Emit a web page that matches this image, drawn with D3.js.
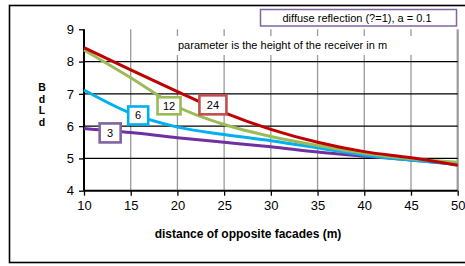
<!DOCTYPE html>
<html>
<head>
<meta charset="utf-8">
<script src="https://cdn.jsdelivr.net/npm/d3@7"></script>
<style>
  body { margin: 0; background: #fff; }
  text { font-family: "Liberation Sans", Arial, sans-serif; }
</style>
</head>
<body>
<div id="main"></div>
<script>

// distance of opposite facades (m)
var distances = [10, 15, 20, 25, 30, 35, 40, 45, 50];

// one series per receiver height (m)
var h3  = [5.93, 5.80, 5.64, 5.50, 5.36, 5.20, 5.07, 4.95, 4.82];
var h6  = [7.12, 6.40, 5.97, 5.74, 5.55, 5.33, 5.10, 4.95, 4.81];
var h12 = [8.36, 7.50, 6.60, 6.05, 5.68, 5.40, 5.16, 4.99, 4.88];
var h24 = [8.43, 7.74, 7.07, 6.42, 5.90, 5.50, 5.21, 5.02, 4.79];

var seriesNames = ["3", "6", "12", "24"];
var xTicks = [10, 15, 20, 25, 30, 35, 40, 45, 50];
var yTicks = [4, 5, 6, 7, 8, 9];

var w = 465;
var h = 266;

var series = [
  { name: seriesNames[0], values: h3,  line: "#7030A0", box: "#8064A2", lx: 12.8, ly: 5.79, bw: 21, bh: 19 },
  { name: seriesNames[1], values: h6,  line: "#00B0F0", box: "#00B0F0", lx: 15.8, ly: 6.33, bw: 20, bh: 18 },
  { name: seriesNames[2], values: h12, line: "#9BBB59", box: "#9BBB59", lx: 19.1, ly: 6.63, bw: 23, bh: 17 },
  { name: seriesNames[3], values: h24, line: "#C00000", box: "#C0504D", lx: 23.8, ly: 6.66, bw: 27, bh: 19 }
];

var svg = d3.select("#main").append("svg")
    .attr("width", w)
    .attr("height", h);

// outer chart frame
svg.append("rect")
    .attr("x", 9.5).attr("y", 5.5)
    .attr("width", 470).attr("height", 257)
    .attr("fill", "#fff")
    .attr("stroke", "#000")
    .attr("stroke-width", 1.6);

var x = d3.scaleLinear().domain([10, 50]).range([84, 457.7]);
var y = d3.scaleLinear().domain([4, 9]).range([190.7, 29.3]);

// vertical grid (grey)
svg.append("g").selectAll("line")
    .data(xTicks.slice(1))
    .enter().append("line")
    .attr("x1", function(d) { return x(d); })
    .attr("x2", function(d) { return x(d); })
    .attr("y1", y(9)).attr("y2", y(4))
    .attr("stroke", "#999")
    .attr("stroke-width", function(d) { return d == 50 ? 2.2 : 1.3; });

// horizontal grid (black)
svg.append("g").selectAll("line")
    .data([5, 6, 7, 8])
    .enter().append("line")
    .attr("x1", x(10)).attr("x2", x(50))
    .attr("y1", function(d) { return y(d); })
    .attr("y2", function(d) { return y(d); })
    .attr("stroke", "#000")
    .attr("stroke-width", 1.2);

// axes
var yAxis = d3.axisLeft(y).tickValues(yTicks).tickFormat(d3.format("d")).tickSize(5).tickPadding(5);
var xAxis = d3.axisBottom(x).tickValues(xTicks).tickFormat(d3.format("d")).tickSize(5).tickPadding(5);

var gy = svg.append("g").attr("transform", "translate(" + x(10) + ",0)").call(yAxis);
var gx = svg.append("g").attr("transform", "translate(0," + y(4) + ")").call(xAxis);

[gx, gy].forEach(function(g) {
  g.select(".domain").attr("stroke", "#000").attr("stroke-width", 2);
  g.selectAll(".tick line").attr("stroke", "#000").attr("stroke-width", 1.3);
  g.selectAll(".tick text")
    .attr("font-family", "Liberation Sans, Arial, sans-serif")
    .attr("font-size", 13)
    .attr("fill", "#000");
});
gy.select(".domain").attr("d", "M0," + y(9) + "V" + y(4));
gx.select(".domain").attr("d", "M" + x(10) + ",0H" + x(50));

// text box with white background over the grid
svg.append("rect")
    .attr("x", 172).attr("y", 36)
    .attr("width", 248).attr("height", 19)
    .attr("fill", "#fff");

svg.append("text")
    .attr("x", 178).attr("y", 48.5)
    .attr("font-size", 11)
    .text("parameter is the height of the receiver in m");

// curves
var line = d3.line()
    .x(function(d, i) { return x(distances[i]); })
    .y(function(d) { return y(d); })
    .curve(d3.curveMonotoneX);

svg.append("g").selectAll("path")
    .data(series)
    .enter().append("path")
    .attr("d", function(s) { return line(s.values); })
    .attr("fill", "none")
    .attr("stroke", function(s) { return s.line; })
    .attr("stroke-width", 3);

// curve labels
var labels = svg.append("g").selectAll("g")
    .data(series)
    .enter().append("g")
    .attr("transform", function(s) { return "translate(" + x(s.lx) + "," + y(s.ly) + ")"; });

labels.append("rect")
    .attr("x", function(s) { return -s.bw / 2; })
    .attr("y", function(s) { return -s.bh / 2; })
    .attr("width", function(s) { return s.bw; })
    .attr("height", function(s) { return s.bh; })
    .attr("fill", "#fff")
    .attr("stroke", function(s) { return s.box; })
    .attr("stroke-width", 2.6);

labels.append("text")
    .attr("text-anchor", "middle")
    .attr("y", 4)
    .attr("font-size", 11)
    .text(function(s) { return s.name; });

// legend box
svg.append("rect")
    .attr("x", 260.5).attr("y", 9.5)
    .attr("width", 196).attr("height", 16.5)
    .attr("fill", "#fff")
    .attr("stroke", "#8064A2")
    .attr("stroke-width", 1.5);

svg.append("text")
    .attr("x", 357).attr("y", 21.5)
    .attr("text-anchor", "middle")
    .attr("font-size", 11)
    .text("diffuse reflection (?=1), a = 0.1");

// axis titles
svg.append("text")
    .attr("x", 248).attr("y", 238)
    .attr("text-anchor", "middle")
    .attr("font-size", 12)
    .attr("font-weight", "bold")
    .text("distance of opposite facades (m)");

// y title: letters stacked upright, one text element
svg.append("text")
    .attr("x", 42).attr("y", 81)
    .attr("font-size", 10.5)
    .attr("font-weight", "bold")
    .style("writing-mode", "vertical-rl")
    .style("text-orientation", "upright")
    .style("letter-spacing", "-0.5px")
    .text("BdLd");

</script>
</body>
</html>
